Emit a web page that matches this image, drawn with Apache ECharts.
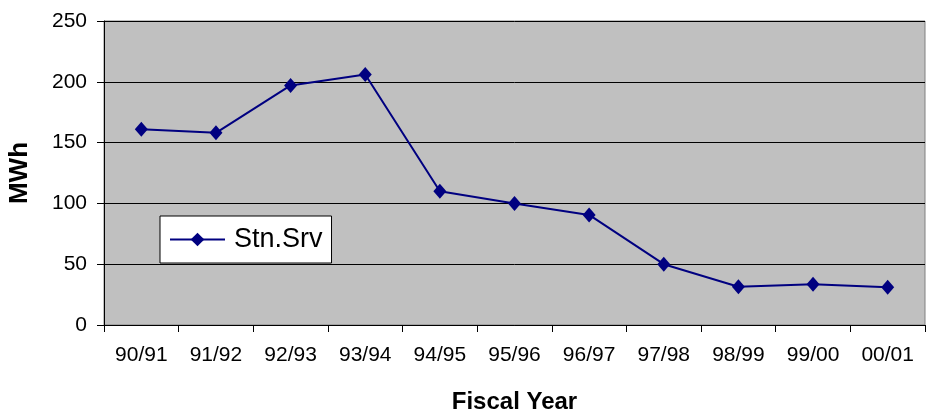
<!DOCTYPE html>
<html>
<head>
<meta charset="utf-8">
<script src="https://cdn.jsdelivr.net/npm/echarts@6/dist/echarts.min.js"></script>
<style>
  html, body { margin: 0; padding: 0; background: #fff; }
  #chart { width: 927px; height: 411px; }
</style>
</head>
<body>
<div id="chart"></div>
<script>
// fiscal years on the x axis
var years = ['90/91', '91/92', '92/93', '93/94', '94/95', '95/96', '96/97', '97/98', '98/99', '99/00', '00/01']
// station service energy, MWh
var stnSrv = [161, 158, 197, 206, 110, 100, 90.5, 50, 31.5, 33.5, 31]

var chart = echarts.init(document.getElementById('chart'))
var font = 'Liberation Sans, Arial, sans-serif'

var option = {
  animation: false,
  textStyle: { fontFamily: font },
  grid: {
    left: 104,
    right: 2,
    top: 21,
    bottom: 86,
    outerBoundsMode: 'none',
    containLabel: false,
    show: true,
    backgroundColor: '#c0c0c0',
    borderColor: '#808080',
    borderWidth: 1
  },
  legend: {
    left: 160,
    top: 216,
    padding: [9, 9, 9, 9],
    backgroundColor: '#fff',
    borderColor: '#000',
    borderWidth: 1,
    borderRadius: 0,
    itemWidth: 55,
    itemHeight: 17,
    textStyle: { fontSize: 27, color: '#000', fontFamily: font, padding: [0, 0, 0, 4], lineHeight: 29 },
    data: ['Stn.Srv']
  },
  xAxis: {
    type: 'category',
    data: years,
    boundaryGap: true,
    name: 'Fiscal Year',
    nameLocation: 'middle',
    nameGap: 65,
    nameTextStyle: { fontSize: 24, fontWeight: 'bold', color: '#000', fontFamily: font },
    axisLine: { lineStyle: { color: '#000', width: 1 } },
    axisTick: { show: true, length: 7, inside: false, alignWithLabel: false, lineStyle: { color: '#000' } },
    axisLabel: { fontSize: 21, color: '#000', margin: 20 },
    splitLine: { show: false }
  },
  yAxis: {
    type: 'value',
    min: 0,
    max: 250,
    interval: 50,
    name: 'MWh',
    nameLocation: 'middle',
    nameGap: 71,
    nameTextStyle: { fontSize: 26, fontWeight: 'bold', color: '#000', fontFamily: font },
    axisLine: { show: true, lineStyle: { color: '#000', width: 1 } },
    axisTick: { show: true, length: 7, lineStyle: { color: '#000' } },
    axisLabel: { fontSize: 21, color: '#000', margin: 17 },
    splitLine: { show: true, lineStyle: { color: '#000', width: 1 } }
  },
  series: [
    {
      name: 'Stn.Srv',
      type: 'line',
      data: stnSrv,
      symbol: 'diamond',
      symbolSize: [13, 15],
      showAllSymbol: true,
      itemStyle: { color: '#000080' },
      lineStyle: { color: '#000080', width: 2 }
    }
  ]
}

chart.setOption(option)
</script>
</body>
</html>
